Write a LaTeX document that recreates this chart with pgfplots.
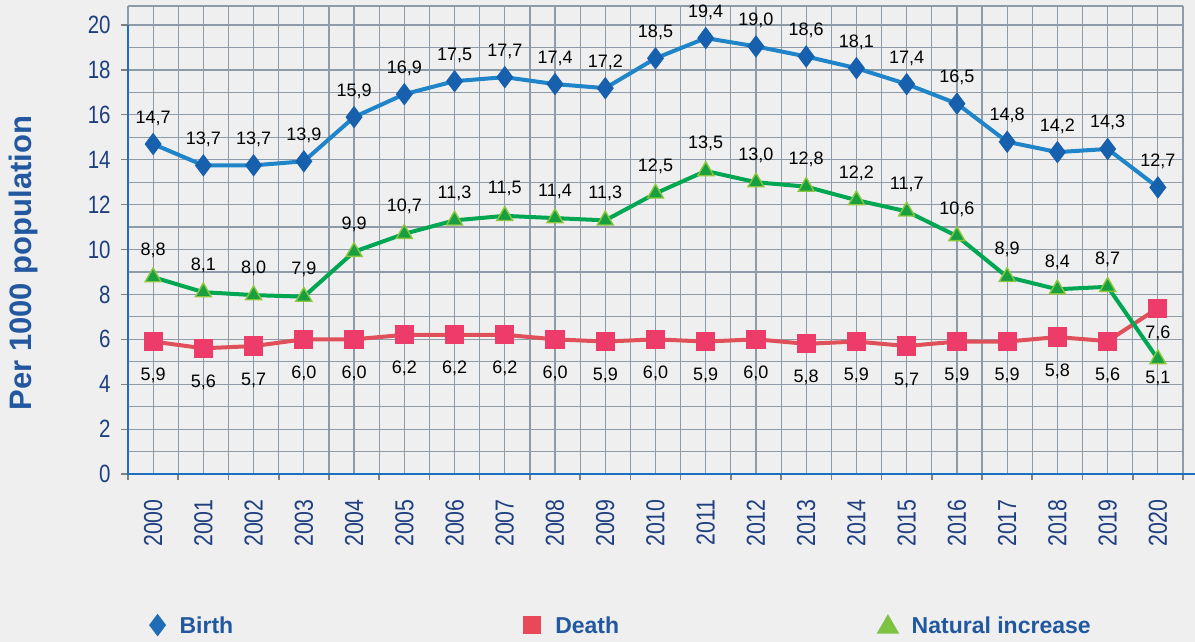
\documentclass[border=0pt]{standalone}
\usepackage{pgfplots}
\pgfplotsset{compat=1.18}
\usepackage{pgfplotstable}
\usepackage{fontspec}
\setmainfont{Liberation Sans}
\newfontfamily\narrowfont[FakeStretch=0.82]{Liberation Sans}

\definecolor{bgcol}{HTML}{EFEFEF}
\definecolor{gridcol}{HTML}{8D9CA8}
\definecolor{axisblue}{HTML}{1F6FC0}
\definecolor{ticktext}{HTML}{1F3F80}
\definecolor{ylabcol}{HTML}{2358A0}
\definecolor{legtext}{HTML}{2158A0}
\definecolor{bline}{HTML}{1F84C8}
\definecolor{bmark}{HTML}{1660AE}
\definecolor{dline}{HTML}{E0505A}
\definecolor{dmark}{HTML}{EE3C6A}
\definecolor{nline}{HTML}{00A651}
\definecolor{nmark}{HTML}{18A040}
\definecolor{nmarkedge}{HTML}{8CC63F}
\definecolor{nleg}{HTML}{7DC243}
\definecolor{dleg}{HTML}{E84858}
\definecolor{bleg}{HTML}{1E6DB5}

\pgfplotstableread{
x y l
0 14.70 14,7
1 13.75 13,7
2 13.75 13,7
3 13.93 13,9
4 15.90 15,9
5 16.92 16,9
6 17.50 17,5
7 17.68 17,7
8 17.37 17,4
9 17.19 17,2
10 18.52 18,5
11 19.42 19,4
12 19.05 19,0
13 18.60 18,6
14 18.08 18,1
15 17.37 17,4
16 16.50 16,5
17 14.80 14,8
18 14.34 14,2
19 14.48 14,3
20 12.77 12,7
}\birth

\pgfplotstableread{
x y l
0 5.90 5,9
1 5.60 5,6
2 5.70 5,7
3 6.00 6,0
4 6.00 6,0
5 6.20 6,2
6 6.20 6,2
7 6.20 6,2
8 6.00 6,0
9 5.90 5,9
10 6.00 6,0
11 5.90 5,9
12 6.00 6,0
13 5.80 5,8
14 5.90 5,9
15 5.70 5,7
16 5.90 5,9
17 5.90 5,9
18 6.10 5,8
19 5.92 5,6
20 7.39 7,6
}\death

\pgfplotstableread{
x y l
0 8.77 8,8
1 8.10 8,1
2 7.97 8,0
3 7.90 7,9
4 9.90 9,9
5 10.70 10,7
6 11.30 11,3
7 11.50 11,5
8 11.40 11,4
9 11.30 11,3
10 12.50 12,5
11 13.50 13,5
12 13.00 13,0
13 12.80 12,8
14 12.20 12,2
15 11.70 11,7
16 10.60 10,6
17 8.78 8,9
18 8.23 8,4
19 8.34 8,7
20 5.12 5,1
}\natural

\begin{document}
\begin{tikzpicture}
\useasboundingbox (0,0) rectangle (597.5pt,321pt);
\fill[bgcol] (0,0) rectangle (597.5pt,321pt);
\node[rotate=90, font=\bfseries\fontsize{15.5}{18}\selectfont, text=ylabcol] at (11.5pt,189.5pt) {Per 1000 population};
\begin{axis}[
  at={(64pt,84pt)}, anchor=south west,
  scale only axis, width=527.5pt, height=234pt,
  xmin=-0.5, xmax=20.5, ymin=0, ymax=20.85,
  clip=false,
  axis line style={draw=none},
  tick align=outside,
  xtick pos=lower, ytick pos=left,
  xtick={0,1,2,3,4,5,6,7,8,9,10,11,12,13,14,15,16,17,18,19,20},
  xticklabels={2000,2001,2002,2003,2004,2005,2006,2007,2008,2009,2010,2011,2012,2013,2014,2015,2016,2017,2018,2019,2020},
  minor xtick={-0.5,0.5,1.5,2.5,3.5,4.5,5.5,6.5,7.5,8.5,9.5,10.5,11.5,12.5,13.5,14.5,15.5,16.5,17.5,18.5,19.5,20.5},
  ytick={0,2,4,6,8,10,12,14,16,18,20},
  yticklabels={0,2,4,6,8,10,12,14,16,18,20},
  minor ytick={1,3,5,7,9,11,13,15,17,19},
  xmajorgrids, xminorgrids, ymajorgrids, yminorgrids,
  major grid style={gridcol, line width=0.6pt},
  minor grid style={gridcol, line width=0.6pt},
  major tick length=3.5pt, minor tick length=3pt,
  major x tick style={draw=none},
  minor y tick style={draw=none},
  major y tick style={draw=gray, line width=0.6pt},
  minor x tick style={draw=gray, line width=0.8pt},
  xticklabel style={font=\narrowfont\fontsize{13}{15}\selectfont, text=ticktext, inner sep=0pt, yshift=-9pt, rotate=90, anchor=east},
  yticklabel style={font=\narrowfont\fontsize{12.5}{15}\selectfont, text=ticktext, inner sep=0pt, anchor=east, xshift=-5pt},
  legend columns=3,
  legend style={at={(axis description cs:0.0163,-0.327)}, anchor=west, draw=none, fill=none,
    font=\bfseries\fontsize{11.5}{14}\selectfont, text=legtext,
    nodes={inner sep=0pt},
    /tikz/every odd column/.append style={column sep=8pt},
    /tikz/every even column/.append style={column sep=130.5pt}},
  nodes near coords,
  point meta=explicit symbolic,
  every node near coord/.append style={font=\fontsize{9}{11}\selectfont, text=black, inner sep=0pt, anchor=base},
]
% Birth
\addplot[bline, line width=2pt, mark=diamond*, mark size=4pt, mark options={fill=bmark, draw=bmark},
  nodes near coords={}, 
  legend image code/.code={\draw[mark=diamond*, mark size=4pt, mark options={fill=bleg, draw=bleg}] plot coordinates {(0cm,1pt)};}]
  table[x=x,y=y,meta=l]{\birth};
\addlegendentry{Birth\rule{15.5pt}{0pt}}
% Death
\addplot[dline, line width=2pt, mark=square*, mark size=3.8pt, mark options={fill=dmark, draw=dmark},
  nodes near coords={},
  legend image code/.code={\draw[mark=square*, mark size=3.5pt, mark options={fill=dleg, draw=dleg}] plot coordinates {(0cm,1pt)};}]
  table[x=x,y=y,meta=l]{\death};
\addlegendentry{Death}
% Natural increase
\addplot[nline, line width=2pt, mark=triangle*, mark size=4.6pt, mark options={fill=nmark, draw=nmarkedge, line width=0.7pt},
  nodes near coords={},
  legend image code/.code={\draw[mark=triangle*, mark size=4.5pt, mark options={fill=nleg, draw=nleg}] plot coordinates {(0cm,0pt)};}]
  table[x=x,y=y,meta=l]{\natural};
\addlegendentry{Natural increase}

% data labels
\addplot[draw=none, mark=none, forget plot, every node near coord/.append style={yshift=10.5pt}] table[x=x,y=y,meta=l]{\birth};
\addplot[draw=none, mark=none, forget plot, restrict x to domain=0:19, every node near coord/.append style={yshift=-19.5pt}] table[x=x,y=y,meta=l]{\death};
\addplot[draw=none, mark=none, forget plot, restrict x to domain=20:20, every node near coord/.append style={yshift=-15pt}] table[x=x,y=y,meta=l]{\death};
\addplot[draw=none, mark=none, forget plot, restrict x to domain=0:19, every node near coord/.append style={yshift=11pt}] table[x=x,y=y,meta=l]{\natural};
\addplot[draw=none, mark=none, forget plot, restrict x to domain=20:20, every node near coord/.append style={yshift=-12pt}] table[x=x,y=y,meta=l]{\natural};

\draw[gridcol, line width=0.6pt] (axis cs:-0.5,20.85) -- (axis cs:20.5,20.85);
\draw[axisblue, line width=1.4pt] (axis cs:-0.5,20) -- (axis cs:-0.5,0) -- (axis cs:20.74,0);
\end{axis}
\end{tikzpicture}
\end{document}
